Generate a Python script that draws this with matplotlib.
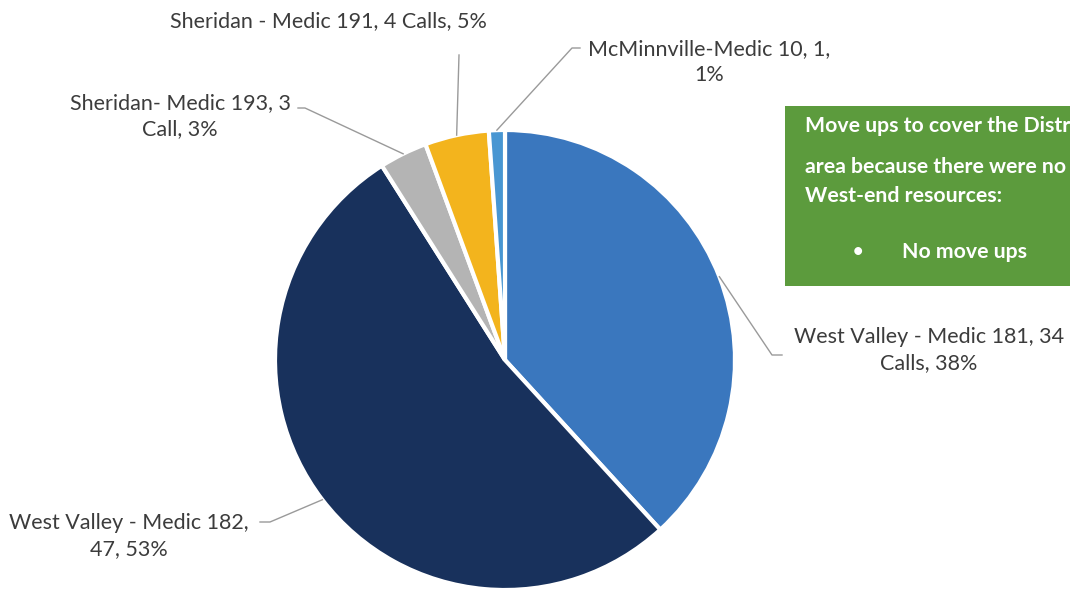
import numpy as np
import matplotlib
matplotlib.use("Agg")
import matplotlib.pyplot as plt
from matplotlib.patches import Rectangle

# call counts per responding unit, clockwise from 12 o'clock
units = ["West Valley - Medic 181", "West Valley - Medic 182", "Sheridan- Medic 193",
         "Sheridan - Medic 191", "McMinnville-Medic 10"]
calls = [34, 47, 3, 4, 1]
labels = ["West Valley - Medic 181, 34\nCalls, 38%",
          "West Valley - Medic 182,\n47, 53%",
          "Sheridan- Medic 193, 3\nCall, 3%",
          "Sheridan - Medic 191, 4 Calls, 5%",
          "McMinnville-Medic 10, 1,\n1%"]
colors = ["#3a77be", "#18315c", "#b4b4b4", "#f3b41d", "#4896d2"]

note_lines = ["Move ups to cover the District", "area because there were no", "West-end resources:"]
note_bullet = "No move ups"

W, H = 1070, 592
plt.rcParams["font.family"] = ["Lato", "DejaVu Sans"]

fig = plt.figure(figsize=(W / 100, H / 100), dpi=100)
ax = fig.add_axes([0, 0, 1, 1])

# pixel-style coordinates (y measured from the top)
cx, cy, r = 505, 360, 230
ax.pie(calls, colors=colors, startangle=90, counterclock=False,
       center=(cx, H - cy), radius=r, frame=True,
       wedgeprops=dict(edgecolor="white", linewidth=3))
ax.set_xlim(0, W)
ax.set_ylim(0, H)
ax.set_aspect("equal")
ax.axis("off")

# mid-angle of each slice, clockwise from the top
frac = np.array(calls) / sum(calls)
mids = (np.cumsum(frac) - frac / 2) * 360

# label centre and leader elbow points (top-down pixels)
label_pos = [(929, 350), (129, 536), (180, 116), (328, 21), (709, 62)]
elbows = [[(772, 355), (782, 355)],
          [(270, 522), (260, 522)],
          [(305, 108), (298, 108)],
          [(459, 55)],
          [(572, 48), (580, 48)]]

for m, lab, (lx, ly), elb in zip(mids, labels, label_pos, elbows):
    a = np.deg2rad(m)
    ex, ey = cx + r * np.sin(a), cy - r * np.cos(a)
    pts = [(ex, ey)] + elb
    ax.plot([p[0] for p in pts], [H - p[1] for p in pts], color="#9a9a9a", lw=1)
    ax.text(lx, H - ly, lab, ha="center", va="center", fontsize=15.5,
            color="#3c3c3c", linespacing=1.35)

# green note box, running off the right edge
ax.add_patch(Rectangle((785, H - 286), 320, 180, facecolor="#5c9b3d",
                       edgecolor="none"))
for base, line in zip([132, 173, 202], note_lines):
    ax.text(805, H - base, line, ha="left", va="baseline",
            fontsize=15.3, color="white", fontweight="bold")
ax.text(858, H - 258, "\u2022", ha="center", va="baseline", fontsize=15.3, color="white")
ax.text(902, H - 258, note_bullet, ha="left", va="baseline", fontsize=15.3,
        color="white", fontweight="bold")

fig.savefig("out.png", dpi=100)
